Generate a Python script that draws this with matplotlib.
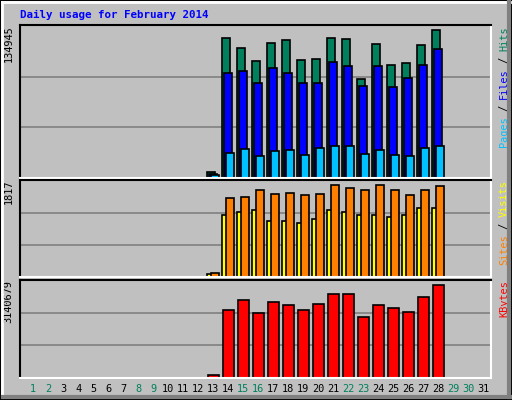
import matplotlib
matplotlib.use("Agg")
import matplotlib.pyplot as plt
from matplotlib.patches import Rectangle
import numpy as np

days = list(range(1, 32))
active_days = list(range(13, 29))
weekend = [1, 2, 8, 9, 15, 16, 22, 23, 29, 30]

hits_max = 134945
visits_max = 1817
kbytes_max = 3140679

hits = [0.037, 0.919, 0.853, 0.767, 0.886, 0.905, 0.774, 0.780, 0.919, 0.912, 0.648, 0.879, 0.741, 0.754, 0.873, 0.971]
files = [0.029, 0.688, 0.701, 0.622, 0.721, 0.688, 0.622, 0.622, 0.760, 0.734, 0.602, 0.734, 0.596, 0.655, 0.741, 0.846]
pages = [0.018, 0.167, 0.193, 0.147, 0.180, 0.187, 0.154, 0.200, 0.207, 0.213, 0.160, 0.187, 0.154, 0.147, 0.200, 0.207]
visits = [0.045, 0.817, 0.827, 0.900, 0.858, 0.869, 0.848, 0.858, 0.955, 0.927, 0.900, 0.955, 0.900, 0.848, 0.900, 0.945]
sites = [0.035, 0.647, 0.678, 0.689, 0.585, 0.585, 0.564, 0.606, 0.689, 0.678, 0.647, 0.647, 0.626, 0.647, 0.720, 0.720]
kbytes = [0.035, 0.696, 0.801, 0.664, 0.780, 0.748, 0.696, 0.759, 0.864, 0.864, 0.622, 0.748, 0.717, 0.675, 0.832, 0.958]

hits = [v * hits_max for v in hits]
files = [v * hits_max for v in files]
pages = [v * hits_max for v in pages]
visits = [v * visits_max for v in visits]
sites = [v * visits_max for v in sites]
kbytes = [v * kbytes_max for v in kbytes]

BG = "#c0c0c0"
W, H = 512, 400
fig = plt.figure(figsize=(5.12, 4.0), dpi=100, facecolor=BG)
mono = "DejaVu Sans Mono"

fig.patches.append(Rectangle((0, 0), 1, 1, transform=fig.transFigure, fill=False, edgecolor="black", lw=1.5))
fig.add_artist(plt.Line2D([2/W, 2/W], [3/H, 1 - 2/H], transform=fig.transFigure, color="white", lw=2))
fig.add_artist(plt.Line2D([2/W, 1 - 2/W], [1 - 2/H, 1 - 2/H], transform=fig.transFigure, color="white", lw=2))
fig.add_artist(plt.Line2D([3/W, 1 - 2/W], [3/H, 3/H], transform=fig.transFigure, color="#808080", lw=3))
fig.add_artist(plt.Line2D([1 - 3/W, 1 - 3/W], [3/H, 1 - 2/H], transform=fig.transFigure, color="#808080", lw=3))

x0, x1 = 20, 491
xl = (1 - 13/15, 1 - 13/15 + (x1 - x0) / 15)

def make_ax(top, bottom, ymax):
    ax = fig.add_axes([x0 / W, 1 - bottom / H, (x1 - x0) / W, (bottom - top) / H])
    ax.set_facecolor(BG)
    ax.set_xlim(*xl)
    ax.set_ylim(0, ymax * 1.005)
    for y in (ymax / 3, 2 * ymax / 3):
        ax.axhline(y, color="#808080", lw=1.2, zorder=0)
    ax.set_xticks([]); ax.set_yticks([])
    ax.spines["top"].set_color("black"); ax.spines["left"].set_color("black")
    ax.spines["bottom"].set_color("white"); ax.spines["right"].set_color("white")
    for s in ax.spines.values():
        s.set_linewidth(1.5)
    ax.text(-0.024, 1.0, str(ymax), transform=ax.transAxes, rotation=90,
            ha="center", va="top", family=mono, fontsize=7.4, color="black")
    return ax

d = np.array(active_days, dtype=float)
kw = dict(edgecolor="black", linewidth=1.2)

ax1 = make_ax(25, 178, hits_max)
ax1.bar(d - 0.13, hits, width=0.5, color="#00805c", **kw)
ax1.bar(d, files, width=0.5, color="#0000ff", **kw)
ax1.bar(d + 0.13, pages, width=0.5, color="#00c0ff", **kw)

ax2 = make_ax(180, 277, visits_max)
ax2.bar(d - 0.24, sites, width=0.28, color="#ffff00", **kw)
ax2.bar(d + 0.13, visits, width=0.5, color="#ff8000", **kw)

ax3 = make_ax(280, 378, kbytes_max)
ax3.bar(d + 0.03, kbytes, width=0.68, color="#ff0000", **kw)

def side_label(ax, parts):
    total = sum(len(t) for t, _ in parts)
    ch = 6.0 / ax.bbox.height
    start = 0.99 - total * ch
    for t, c in parts:
        ax.text(1.028, start, t, transform=ax.transAxes, rotation=90, ha="center", va="bottom",
                family=mono, fontsize=7.4, color=c)
        start += len(t) * ch

side_label(ax1, [("Pages", "#00c0ff"), (" / ", "black"), ("Files", "#0000ff"), (" / ", "black"), ("Hits", "#00805c")])
side_label(ax2, [("Sites", "#ff8000"), (" / ", "black"), ("Visits", "#ffff00")])
side_label(ax3, [("KBytes", "#ff0000")])

for dd in days:
    ax3.text(dd, -0.115, str(dd), transform=ax3.get_xaxis_transform(), ha="center", va="center",
             family=mono, fontsize=7.4, color="#00805c" if dd in weekend else "black")

fig.text(20 / W, 1 - 15 / H, "Daily usage for February 2014", ha="left", va="center",
         family=mono, fontsize=7.8, fontweight="bold", color="#0000ff")

fig.savefig("out.png", dpi=100, facecolor=BG)
